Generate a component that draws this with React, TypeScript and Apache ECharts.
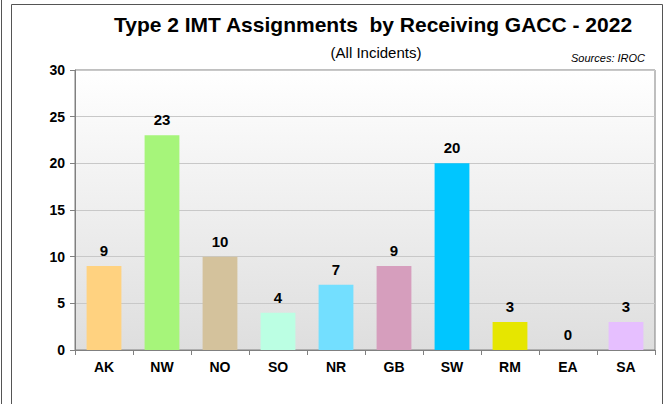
import React, { useEffect, useRef } from "react";
import * as echarts from "echarts";

const categories = ["AK", "NW", "NO", "SO", "NR", "GB", "SW", "RM", "EA", "SA"];
const values = [9, 23, 10, 4, 7, 9, 20, 3, 0, 3];
const barColors = ["#FFD280", "#A6F57A", "#D4C29C", "#BBFFE3", "#73DFFF", "#D69EBD", "#00C6FF", "#E6E600", "#CCCCCC", "#E6BFFF"];
const yTicks = { min: 0, max: 30, interval: 5 };

export default function App() {
  const ref = useRef<HTMLDivElement>(null);
  useEffect(() => {
    const chart = echarts.init(ref.current!, null, { renderer: "svg" });
    chart.setOption({
      animation: false,
      backgroundColor: "#ffffff",
      textStyle: { fontFamily: "Liberation Sans, Arial, sans-serif" },
      title: [
        {
          text: "Type 2 IMT Assignments  by Receiving GACC - 2022",
          left: 368,
          top: 9,
          textAlign: "center",
          textStyle: { fontSize: 21, fontWeight: "bold", color: "#000" },
        },
        {
          text: "(All Incidents)",
          left: 371,
          top: 40,
          textAlign: "center",
          textStyle: { fontSize: 15, fontWeight: "normal", color: "#000" },
        },
        {
          text: "Sources: IROC",
          right: 17,
          top: 47,
          textStyle: { fontSize: 11, fontStyle: "italic", fontWeight: "normal", color: "#000" },
        },
      ],
      graphic: [
        { type: "line", shape: { x1: 1.5, y1: 0, x2: 1.5, y2: 404 }, style: { stroke: "#555", lineWidth: 1 } },
        { type: "rect", shape: { x: 11.5, y: 4.5, width: 651, height: 420 }, style: { fill: "none", stroke: "#555", lineWidth: 1 } },
      ],
      grid: {
        left: 75,
        right: 12,
        top: 70,
        bottom: 54,
        show: true,
        borderColor: "#808080",
        borderWidth: 1,
        backgroundColor: {
          type: "linear",
          x: 0, y: 0, x2: 0, y2: 1,
          colorStops: [
            { offset: 0, color: "#ffffff" },
            { offset: 1, color: "#dedede" },
          ],
        },
      },
      xAxis: {
        type: "category",
        data: categories,
        axisLine: { lineStyle: { color: "#808080" } },
        axisTick: { show: true, alignWithLabel: false, length: 5, lineStyle: { color: "#808080" } },
        axisLabel: { fontSize: 14, fontWeight: "bold", color: "#000", margin: 10 },
      },
      yAxis: {
        type: "value",
        min: yTicks.min,
        max: yTicks.max,
        interval: yTicks.interval,
        axisLine: { show: true, lineStyle: { color: "#808080" } },
        axisTick: { show: true, length: 5, lineStyle: { color: "#808080" } },
        axisLabel: { fontSize: 14, fontWeight: "bold", color: "#000", margin: 10 },
        splitLine: { lineStyle: { color: "#c8c8c8" } },
      },
      series: [
        {
          type: "bar",
          data: values.map((v, i) => ({ value: v, itemStyle: { color: barColors[i] } })),
          barWidth: "60%",
          label: {
            show: true,
            position: "top",
            distance: 8,
            fontSize: 15,
            fontWeight: "bold",
            color: "#000",
          },
        },
      ],
    });
    return () => chart.dispose();
  }, []);
  return <div ref={ref} style={{ width: 667, height: 404, position: "absolute", left: 0, top: 0 }} />;
}
